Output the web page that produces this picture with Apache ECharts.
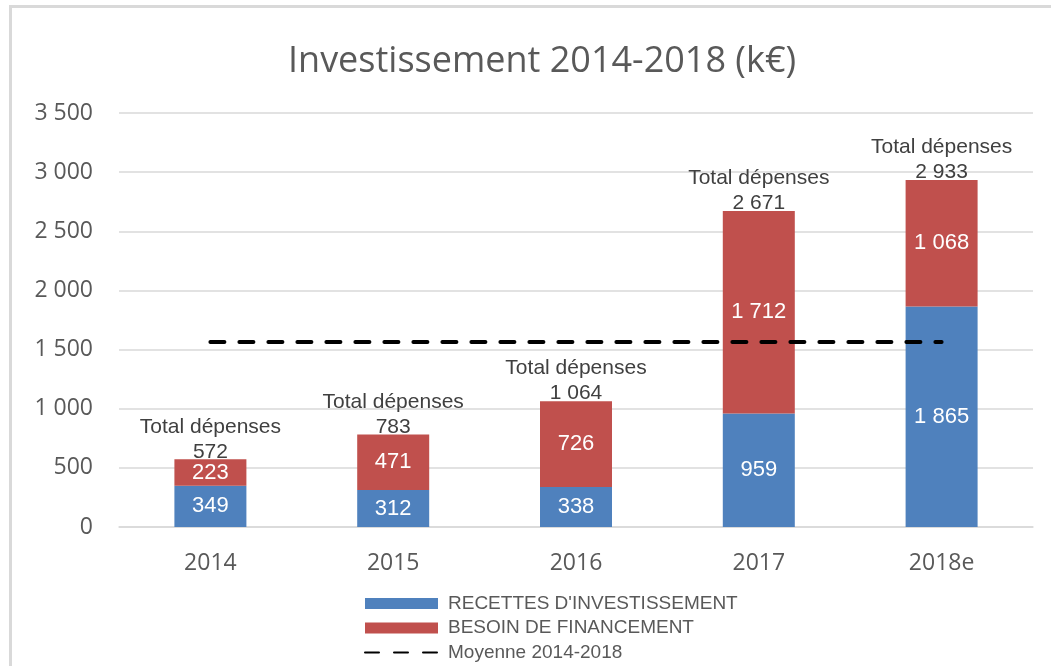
<!DOCTYPE html>
<html>
<head>
<meta charset="utf-8">
<script src="https://cdn.jsdelivr.net/npm/echarts@6/dist/echarts.min.js"></script>
<style>
    html, body { margin: 0; padding: 0; background: #fff; }
    #chart { width: 1051px; height: 666px; }
</style>
</head>
<body>
<div id="chart"></div>
<script>
    // données
    const years = ['2014', '2015', '2016', '2017', '2018e'];
    const recettes = [349, 312, 338, 959, 1865];
    const besoin = [223, 471, 726, 1712, 1068];
    const totals = [572, 783, 1064, 2671, 2933];
    const moyenne = [1565, 1565, 1565, 1565, 1565];

    const blue = '#4f81bd';
    const red = '#c0504d';
    const grey = '#595959';

    function fmt(v) {
        return String(v).replace(/\B(?=(\d{3})+(?!\d))/g, ' ');
    }

    const myChart = echarts.init(document.getElementById('chart'));

    const innerLabel = {
        show: true,
        position: 'inside',
        color: '#fff',
        fontFamily: 'Liberation Sans',
        fontSize: 22,
        formatter: p => fmt(p.value)
    };

    const option = {
        animation: false,
        title: {
            text: 'Investissement 2014-2018 (k€)',
            left: 283,
            top: 39,
            textStyle: {
                fontFamily: 'Open Sans',
                fontWeight: 'normal',
                fontSize: 36,
                color: grey
            }
        },
        graphic: [
            { type: 'rect', shape: { x: 9, y: 5, width: 1042, height: 3 }, style: { fill: '#d9d9d9' } },
            { type: 'rect', shape: { x: 9, y: 5, width: 3, height: 661 }, style: { fill: '#d9d9d9' } }
        ],
        legend: {
            orient: 'vertical',
            left: 364,
            top: 594,
            height: 72,
            padding: 0,
            itemWidth: 73,
            itemHeight: 11,
            itemGap: 5.5,
            data: [
                { name: 'RECETTES D\'INVESTISSEMENT', icon: 'rect' },
                { name: 'BESOIN DE FINANCEMENT', icon: 'rect' },
                'Moyenne 2014-2018'
            ],
            textStyle: {
                fontFamily: 'Liberation Sans',
                fontSize: 19,
                lineHeight: 19,
                color: grey,
                padding: [0, 0, 0, 5]
            }
        },
        grid: {
            left: 119,
            right: 18,
            top: 113,
            bottom: 139,
            containLabel: false,
            outerBoundsMode: 'none'
        },
        xAxis: {
            type: 'category',
            data: years,
            axisTick: { show: false },
            axisLine: { lineStyle: { color: '#d9d9d9', width: 1.5 } },
            axisLabel: {
                margin: 25,
                fontFamily: 'Open Sans',
                fontSize: 23,
                color: grey
            }
        },
        yAxis: {
            type: 'value',
            min: 0,
            max: 3500,
            interval: 500,
            axisLine: { show: false },
            axisTick: { show: false },
            splitLine: { lineStyle: { color: '#d9d9d9', width: 1.5 } },
            axisLabel: {
                margin: 26,
                fontFamily: 'Open Sans',
                fontSize: 23,
                color: grey,
                formatter: v => fmt(v)
            }
        },
        series: [
            {
                name: 'RECETTES D\'INVESTISSEMENT',
                type: 'bar',
                stack: 'tot',
                barWidth: 72,
                data: recettes,
                itemStyle: { color: blue },
                label: innerLabel
            },
            {
                name: 'BESOIN DE FINANCEMENT',
                type: 'bar',
                stack: 'tot',
                barWidth: 72,
                data: besoin,
                itemStyle: { color: red },
                label: innerLabel
            },
            {
                name: 'Total',
                type: 'bar',
                stack: 'tot',
                barWidth: 72,
                data: years.map(() => 0),
                itemStyle: { color: 'transparent' },
                label: {
                    show: true,
                    position: 'top',
                    distance: -5,
                    fontFamily: 'Liberation Sans',
                    fontSize: 21,
                    lineHeight: 25,
                    color: '#404040',
                    formatter: p => 'Total dépenses\n' + fmt(totals[p.dataIndex])
                }
            },
            {
                name: 'Moyenne 2014-2018',
                type: 'line',
                data: moyenne,
                symbol: 'none',
                z: 5,
                itemStyle: { color: '#000', opacity: 0 },
                lineStyle: {
                    color: '#000',
                    width: 4,
                    type: [14, 15],
                    cap: 'round',
                    opacity: 1
                }
            }
        ]
    };

    myChart.setOption(option);
</script>
</body>
</html>
